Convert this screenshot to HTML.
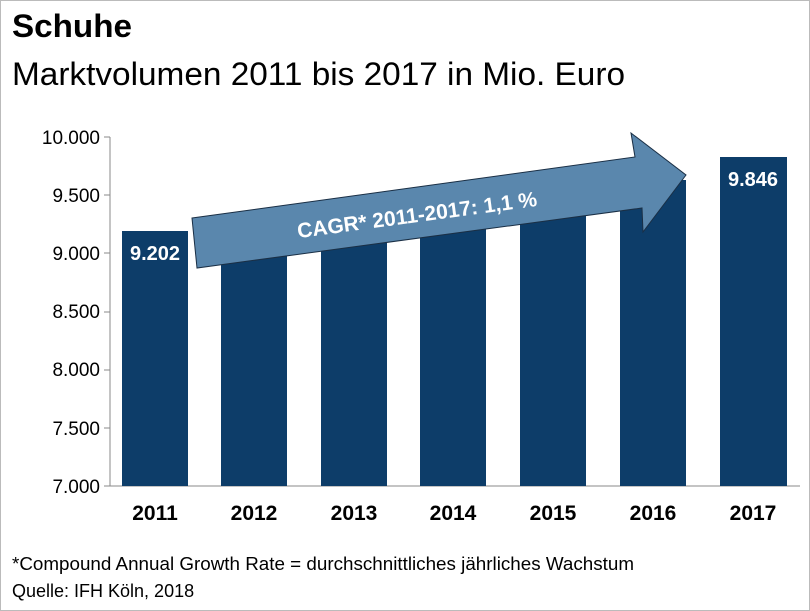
<!DOCTYPE html>
<html><head><meta charset="utf-8"><style>
body{margin:0;background:#fff;}
svg{display:block;font-family:"Liberation Sans",Arial,sans-serif;}
</style></head><body>
<svg width="810" height="611" viewBox="0 0 810 611">
<rect x="0.5" y="0.5" width="809" height="610" fill="#fff" stroke="#bbb"/>
<text x="12" y="37" font-size="32" font-weight="bold" fill="#000" textLength="120" lengthAdjust="spacingAndGlyphs">Schuhe</text>
<text x="12" y="85" font-size="32" fill="#000" textLength="613" lengthAdjust="spacingAndGlyphs">Marktvolumen 2011 bis 2017 in Mio. Euro</text>
<g font-size="19" fill="#000" text-anchor="end">
<text x="100" y="144">10.000</text>
<text x="100" y="202">9.500</text>
<text x="100" y="260">9.000</text>
<text x="100" y="318">8.500</text>
<text x="100" y="376">8.000</text>
<text x="100" y="435">7.500</text>
<text x="100" y="493">7.000</text>
</g>
<g stroke="#888" stroke-width="1">
<line x1="110" y1="137" x2="110" y2="486"/>
<line x1="104" y1="137" x2="110" y2="137"/><line x1="104" y1="195" x2="110" y2="195"/>
<line x1="104" y1="253" x2="110" y2="253"/><line x1="104" y1="312" x2="110" y2="312"/>
<line x1="104" y1="370" x2="110" y2="370"/><line x1="104" y1="428" x2="110" y2="428"/>
<line x1="104" y1="486" x2="800" y2="486"/>
</g>
<g fill="#0d3d69">
<rect x="122" y="231" width="66" height="255"/>
<rect x="221" y="222" width="66" height="264"/>
<rect x="321" y="212" width="66" height="274"/>
<rect x="420" y="200" width="66" height="286"/>
<rect x="520" y="190" width="66" height="296"/>
<rect x="620" y="180" width="66" height="306"/>
<rect x="720" y="157" width="67" height="329"/>
</g>
<text x="155" y="260" font-size="20" font-weight="bold" fill="#fff" text-anchor="middle">9.202</text>
<text x="753" y="186" font-size="20" font-weight="bold" fill="#fff" text-anchor="middle">9.846</text>
<polygon points="192,218 635,157 631,133 686,175 643,232 642,208 197,268" fill="#5a87ad" stroke="#1a2f45" stroke-width="1"/>
<text x="0" y="0" font-size="21" font-weight="bold" fill="#fff" text-anchor="middle" transform="translate(418,222) rotate(-7.7)">CAGR* 2011-2017: 1,1 %</text>
<g font-size="21" font-weight="bold" fill="#000" text-anchor="middle">
<text x="155" y="520">2011</text><text x="254" y="520">2012</text><text x="354" y="520">2013</text>
<text x="453" y="520">2014</text><text x="553" y="520">2015</text><text x="653" y="520">2016</text>
<text x="753" y="520">2017</text>
</g>
<text x="12" y="570" font-size="18" fill="#000" textLength="622" lengthAdjust="spacingAndGlyphs">*Compound Annual Growth Rate = durchschnittliches jährliches Wachstum</text>
<text x="12" y="597" font-size="18" fill="#000">Quelle: IFH Köln, 2018</text>
</svg>
</body></html>
